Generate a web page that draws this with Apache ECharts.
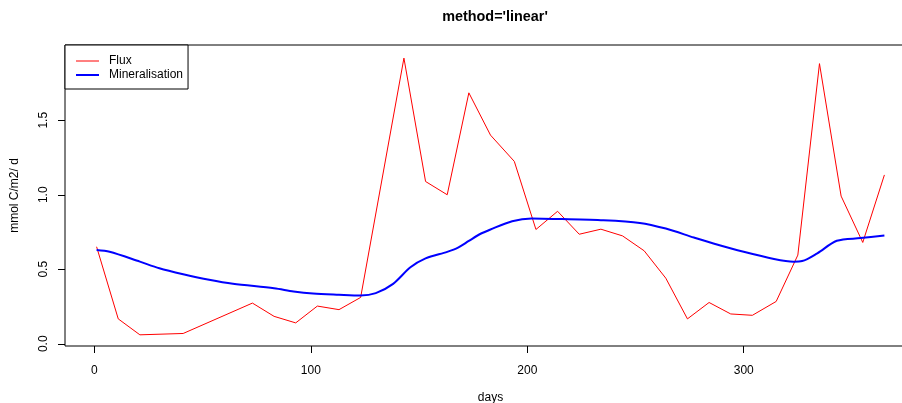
<!DOCTYPE html>
<html>
<head>
<meta charset="utf-8">
<script src="https://cdn.jsdelivr.net/npm/echarts@6/dist/echarts.min.js"></script>
<style>html,body{margin:0;padding:0;background:#fff;}#c{width:902px;height:403px;}</style>
</head>
<body>
<div id="c"></div>
<script>
const fluxDays = [1, 11, 21, 41, 73, 83, 93, 103, 113, 123, 143, 153, 163, 173, 183, 194, 204, 214, 224, 234, 244, 254, 264, 274, 284, 294, 304, 315, 325, 335, 345, 355, 365];
const fluxValues = [0.651, 0.167, 0.06, 0.069, 0.273, 0.184, 0.14, 0.253, 0.229, 0.311, 1.917, 1.089, 1.0, 1.684, 1.4, 1.224, 0.767, 0.889, 0.735, 0.769, 0.724, 0.624, 0.44, 0.167, 0.277, 0.2, 0.191, 0.284, 0.595, 1.88, 0.991, 0.68, 1.133];
const minDays = [1, 7, 21, 30, 41, 53, 64, 83, 92, 101, 113, 123, 130, 138, 146, 153, 163, 168, 173, 178, 183, 193, 202, 212, 234, 252, 264, 277, 286, 300, 314, 323, 327, 334, 343, 354, 365];
const minValues = [0.629, 0.617, 0.551, 0.507, 0.467, 0.429, 0.402, 0.373, 0.351, 0.337, 0.329, 0.324, 0.34, 0.402, 0.513, 0.573, 0.617, 0.645, 0.69, 0.735, 0.767, 0.822, 0.84, 0.838, 0.829, 0.811, 0.773, 0.713, 0.673, 0.617, 0.569, 0.551, 0.555, 0.607, 0.691, 0.709, 0.727];
const xTicks = [0, 100, 200, 300];
const yTicks = [0, 0.5, 1.0, 1.5];
const titleText = "method='linear'";
const xName = 'days';
const yName = 'mmol C/m2/ d';

const chart = echarts.init(document.getElementById('c'), null, {renderer: 'canvas'});
const font = 'Liberation Sans, Arial, sans-serif';
chart.setOption({
  animation: false,
  backgroundColor: '#fff',
  title: {
    text: titleText, left: 490, top: 5, textAlign: 'center',
    textStyle: {fontFamily: font, fontSize: 14.4, fontWeight: 'bold', color: '#000'}
  },
  legend: {
    left: 65, top: 45, orient: 'vertical',
    borderColor: '#000', borderWidth: 1, borderRadius: 0,
    backgroundColor: '#fff',
    padding: [10, 5, 8, 10],
    itemWidth: 23, itemHeight: 10, itemGap: 2,
    itemStyle: {opacity: 0},
    textStyle: {fontFamily: font, fontSize: 12, color: '#000', padding: [0, 0, 0, 5]},
    data: [
      {name: 'Flux', lineStyle: {width: 1, color: '#ff0000'}},
      {name: 'Mineralisation', lineStyle: {width: 2, color: '#0000ff'}}
    ]
  },
  grid: {
    left: 65, top: 45, right: -14, bottom: 57,
    outerBoundsMode: 'none', containLabel: false,
    show: true, borderColor: '#000', borderWidth: 1, backgroundColor: 'transparent'
  },
  xAxis: {
    type: 'value', min: -13.6, max: 379.6,
    name: xName, nameLocation: 'middle', nameGap: 46,
    nameTextStyle: {fontFamily: font, fontSize: 12, color: '#000'},
    axisLine: {show: false, onZero: false},
    axisTick: {show: true, length: 7, customValues: xTicks, lineStyle: {color: '#000'}},
    axisLabel: {customValues: xTicks, margin: 19, fontFamily: font, fontSize: 12, color: '#000'},
    splitLine: {show: false}
  },
  yAxis: {
    type: 'value', min: -0.015, max: 2.005,
    name: yName, nameLocation: 'middle', nameGap: 44,
    nameTextStyle: {fontFamily: font, fontSize: 12, color: '#000'},
    axisLine: {show: false, onZero: false},
    axisTick: {show: true, length: 7, customValues: yTicks, lineStyle: {color: '#000'}},
    axisLabel: {customValues: yTicks, rotate: 90, margin: 15, fontFamily: font, fontSize: 12, color: '#000',
      formatter: v => v.toFixed(1)},
    splitLine: {show: false}
  },
  series: [
    {
      name: 'Flux', type: 'line', symbol: 'none',
      lineStyle: {color: '#ff0000', width: 1}, itemStyle: {color: '#ff0000'},
      data: fluxDays.map((d, i) => [d, fluxValues[i]])
    },
    {
      name: 'Mineralisation', type: 'line', symbol: 'none', smooth: 0.3,
      lineStyle: {color: '#0000ff', width: 2}, itemStyle: {color: '#0000ff'},
      data: minDays.map((d, i) => [d, minValues[i]])
    }
  ]
});
</script>
</body>
</html>
